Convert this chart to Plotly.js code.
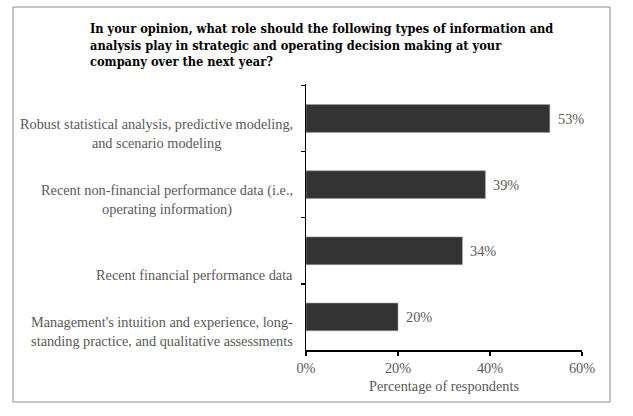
<!DOCTYPE html>
<html>
<head>
<meta charset="utf-8">
<script src="https://cdn.plot.ly/plotly-3.0.1.min.js"></script>
<style>
  html, body { margin: 0; padding: 0; background: #fff; }
  #chart { width: 633px; height: 416px; }
</style>
</head>
<body>
<div id="chart"></div>
<script>
// ---- data ----
var categories = [
  "Robust statistical analysis, predictive modeling,<br>and scenario modeling",
  "Recent non-financial performance data (i.e.,<br>operating information)",
  "Recent financial performance data",
  "Management's intuition and experience, long-<br>standing practice, and qualitative assessments"
];
var values = [53, 39, 34, 20];
var valueLabels = ["53%", "39%", "34%", "20%"];
var tickValues = [0, 20, 40, 60];
var tickLabels = ["0%", "20%", "40%", "60%"];
var chartTitle = "In your opinion, what role should the following types of information and<br>analysis play in strategic and operating decision making at your<br>company over the next year?";
var xTitle = "Percentage of respondents";

// ---- styles ----
var FONT = "'Liberation Serif', 'Times New Roman', serif";
var TITLE_FONT = "'DejaVu Serif Condensed', 'DejaVu Serif', serif";
var GRAY = "#595959";
var FS = 14.3;

var trace = {
  type: "bar",
  orientation: "h",
  y: categories,
  x: values,
  width: 0.42,
  marker: { color: "#333333", line: { color: "#9a9a9a", width: 0.6 } },
  hoverinfo: "skip"
};

var annotations = [];
categories.forEach(function (c, i) {
  var nLines = c.split("<br>").length;
  annotations.push({
    xref: "paper", yref: "y", x: 0, y: c,
    xanchor: "right", yanchor: "middle", align: "center",
    xshift: -11, yshift: nLines === 2 ? -15 : -24,
    text: c, showarrow: false,
    font: { family: FONT, size: FS, color: GRAY }
  });
  annotations.push({
    xref: "x", yref: "y", x: values[i], y: c,
    xanchor: "left", yanchor: "middle",
    xshift: 6, text: valueLabels[i], showarrow: false,
    font: { family: FONT, size: FS, color: GRAY }
  });
});

var layout = {
  width: 633, height: 416,
  margin: { l: 306, r: 51, t: 84, b: 66 },
  paper_bgcolor: "#ffffff", plot_bgcolor: "#ffffff",
  showlegend: false,
  title: {
    text: chartTitle,
    font: { family: TITLE_FONT, size: 12.7, color: "#000000", weight: "bold" },
    xref: "container", yref: "container",
    x: 90 / 633, xanchor: "left",
    y: 1 - 33 / 416, yanchor: "top"
  },
  xaxis: {
    range: [0, 60],
    tickvals: tickValues, ticktext: tickLabels,
    showgrid: false, zeroline: false,
    showline: true, linecolor: "#000000", linewidth: 1.5,
    ticks: "outside", ticklen: 4, tickcolor: "#000000", tickwidth: 1.5,
    tickfont: { family: FONT, size: FS, color: GRAY },
    title: { text: xTitle, font: { family: FONT, size: FS, color: GRAY }, standoff: 6 },
    fixedrange: true
  },
  yaxis: {
    type: "category",
    autorange: "reversed",
    showticklabels: false,
    showgrid: false, zeroline: false,
    showline: true, linecolor: "#000000", linewidth: 1.5,
    ticks: "outside", tickson: "boundaries", ticklen: 4, tickcolor: "#000000", tickwidth: 1.5,
    fixedrange: true
  },
  annotations: annotations,
  shapes: [{
    type: "rect", xref: "paper", yref: "paper",
    x0: (13 - 306) / 276, x1: (610 - 306) / 276,
    y0: (350 - 402) / 266, y1: (350 - 7) / 266,
    line: { color: "#8c8c8c", width: 1 }, fillcolor: "rgba(0,0,0,0)", layer: "below"
  }]
};

Plotly.newPlot("chart", [trace], layout, { displayModeBar: false, staticPlot: true });
</script>
</body>
</html>
